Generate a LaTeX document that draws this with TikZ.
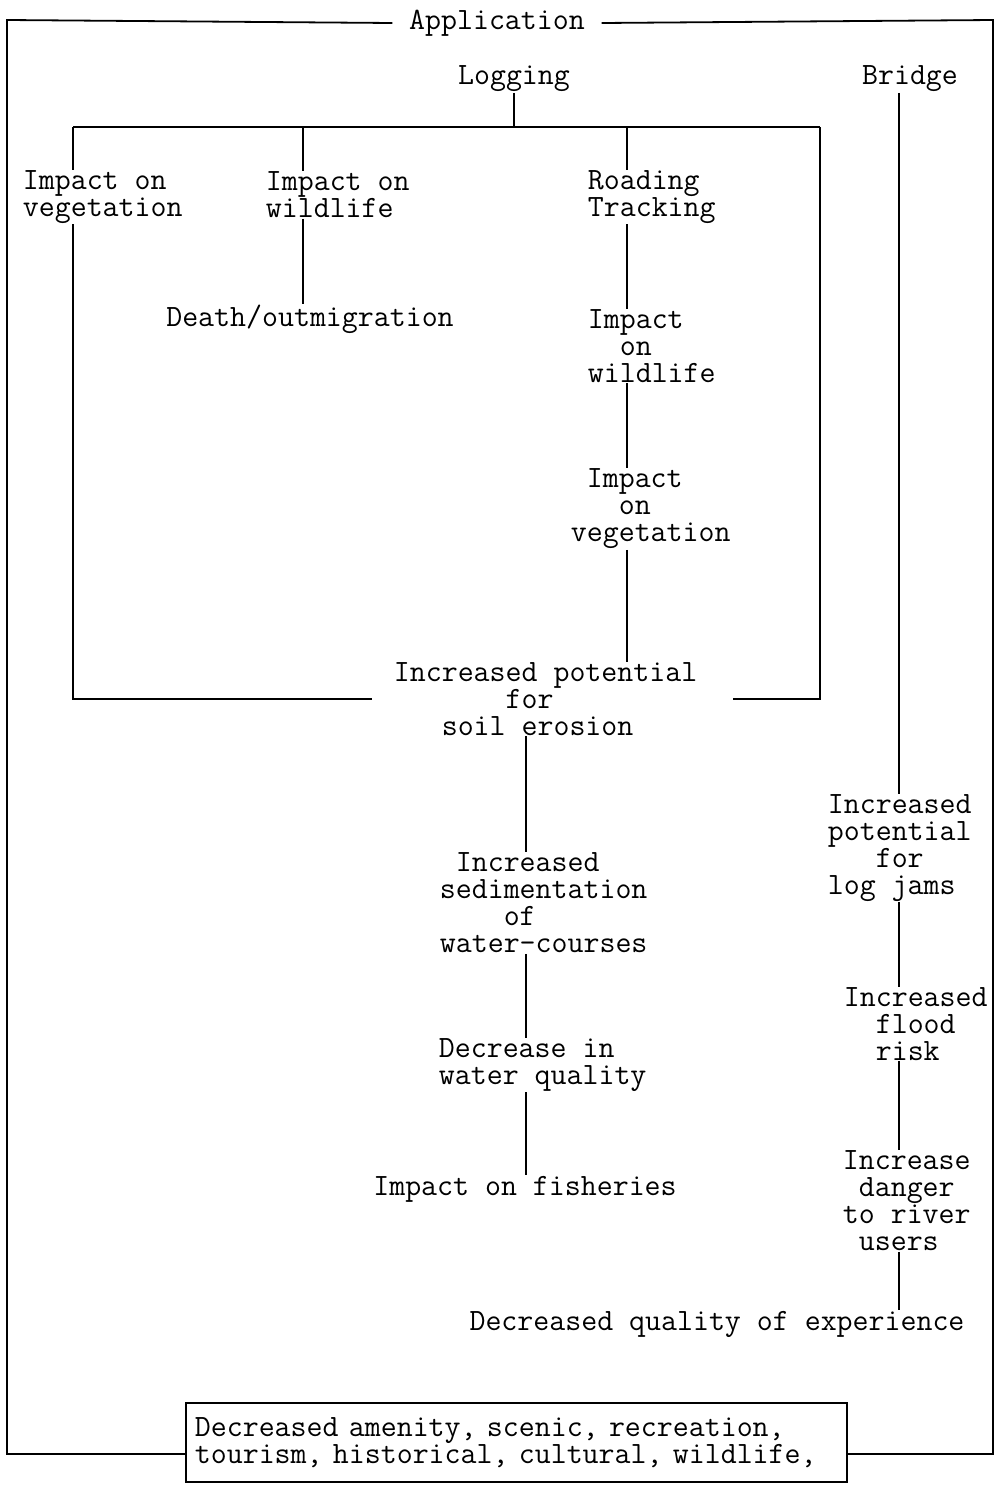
\documentclass[tikz,border=0pt]{standalone}
\usepackage{fontspec}
\begin{document}
\begin{tikzpicture}[x=0.5pt,y=-0.5pt,line width=0.9pt,
  every node/.style={inner sep=0pt,font=\ttfamily\frenchspacing\fontsize{15.5}{13.5}\selectfont},
  lbl/.style={align=left,anchor=west}]
\useasboundingbox (0,0) rectangle (998,1488);

% headings
\node[inner xsep=8pt] (app) at (497,23) {Application};
\node (log) at (514,79) {Logging};
\node (bridge) at (910,79) {Bridge};

% logging branch
\node[lbl] (iveg) at (22,197) {Impact on\\vegetation};
\node[lbl] (iwild) at (265,195) {Impact on\\wildlife};
\node (death) at (310,319) {Death/outmigration};
\node[lbl] (road) at (587,197) {Roading\\Tracking};
\node[lbl] (rwild) at (587,346) {Impact\\\phantom{xx}on\\wildlife};
\node[lbl] (rveg) at (570,509) {\phantom{x}Impact\\\phantom{xxx}on\\vegetation};
\node[lbl,inner xsep=10.5pt] (soil) at (372,699) {Increased potential\\\phantom{xxxxxxx}for\\\phantom{xxx}soil erosion};
\node[lbl] (sed) at (439,903) {\phantom{x}Increased\\sedimentation\\\phantom{xxxx}of\\water-courses};
\node[lbl] (wq) at (438,1065) {Decrease in\\water quality};
\node (fish) at (525,1189) {Impact on fisheries};

% bridge branch
\node[lbl] (jams) at (827,848) {Increased\\potential\\\phantom{xxx}for\\log jams};
\node[lbl] (flood) at (843,1024) {Increased\\\phantom{xx}flood\\\phantom{xx}risk};
\node[lbl] (danger) at (842,1201) {Increase\\\phantom{x}danger\\to river\\\phantom{x}users};
\node (exp) at (717,1324) {Decreased quality of experience};

% final outcome box
\node[draw,anchor=north west,align=left,inner xsep=4.5pt,text width=321.5pt,
      minimum height=39.5pt] (amen) at (185,1402)
  {Decreased amenity, scenic, recreation,\\tourism, historical, cultural, wildlife,};

% frame and junctions
\coordinate (tl) at (7,20);
\coordinate (tr) at (993,20);
\coordinate (bl) at (7,1454);
\coordinate (br) at (993,1454);
\coordinate (ja) at (73,127);
\coordinate (jd) at (820,127);
\coordinate (cw) at (303,127);
\coordinate (cr) at (627,127);
\coordinate (cs) at (526,0);
\coordinate (cb) at (899,0);

% outer frame
\draw (app.west) -- (tl) -- (bl) -- (bl -| amen.west);
\draw (app.east) -- (tr) -- (br) -- (br -| amen.east);

% logging tree
\draw (log.south) -- (log.south |- ja);
\draw (ja) -- (jd);
\draw (ja) -- (ja |- iveg.north);
\draw (iveg.south -| ja) -- (ja |- soil.west) -- (soil.west);
\draw (jd) -- (jd |- soil.east) -- ([xshift=7pt]soil.east);
\draw (cw) -- (cw |- iwild.north);
\draw (iwild.south -| cw) -- (cw |- death.north);
\draw (cr) -- (cr |- road.north);
\draw (road.south -| cr) -- (cr |- rwild.north);
\draw (rwild.south -| cr) -- (cr |- rveg.north);
\draw (rveg.south -| cr) -- (cr |- soil.north);
\draw (soil.south -| cs) -- (sed.north -| cs);
\draw (sed.south -| cs) -- (wq.north -| cs);
\draw (wq.south -| cs) -- (fish.north -| cs);

% bridge chain
\draw (bridge.south -| cb) -- (jams.north -| cb);
\draw (jams.south -| cb) -- (flood.north -| cb);
\draw (flood.south -| cb) -- (danger.north -| cb);
\draw (danger.south -| cb) -- (exp.north -| cb);
\end{tikzpicture}
\end{document}
